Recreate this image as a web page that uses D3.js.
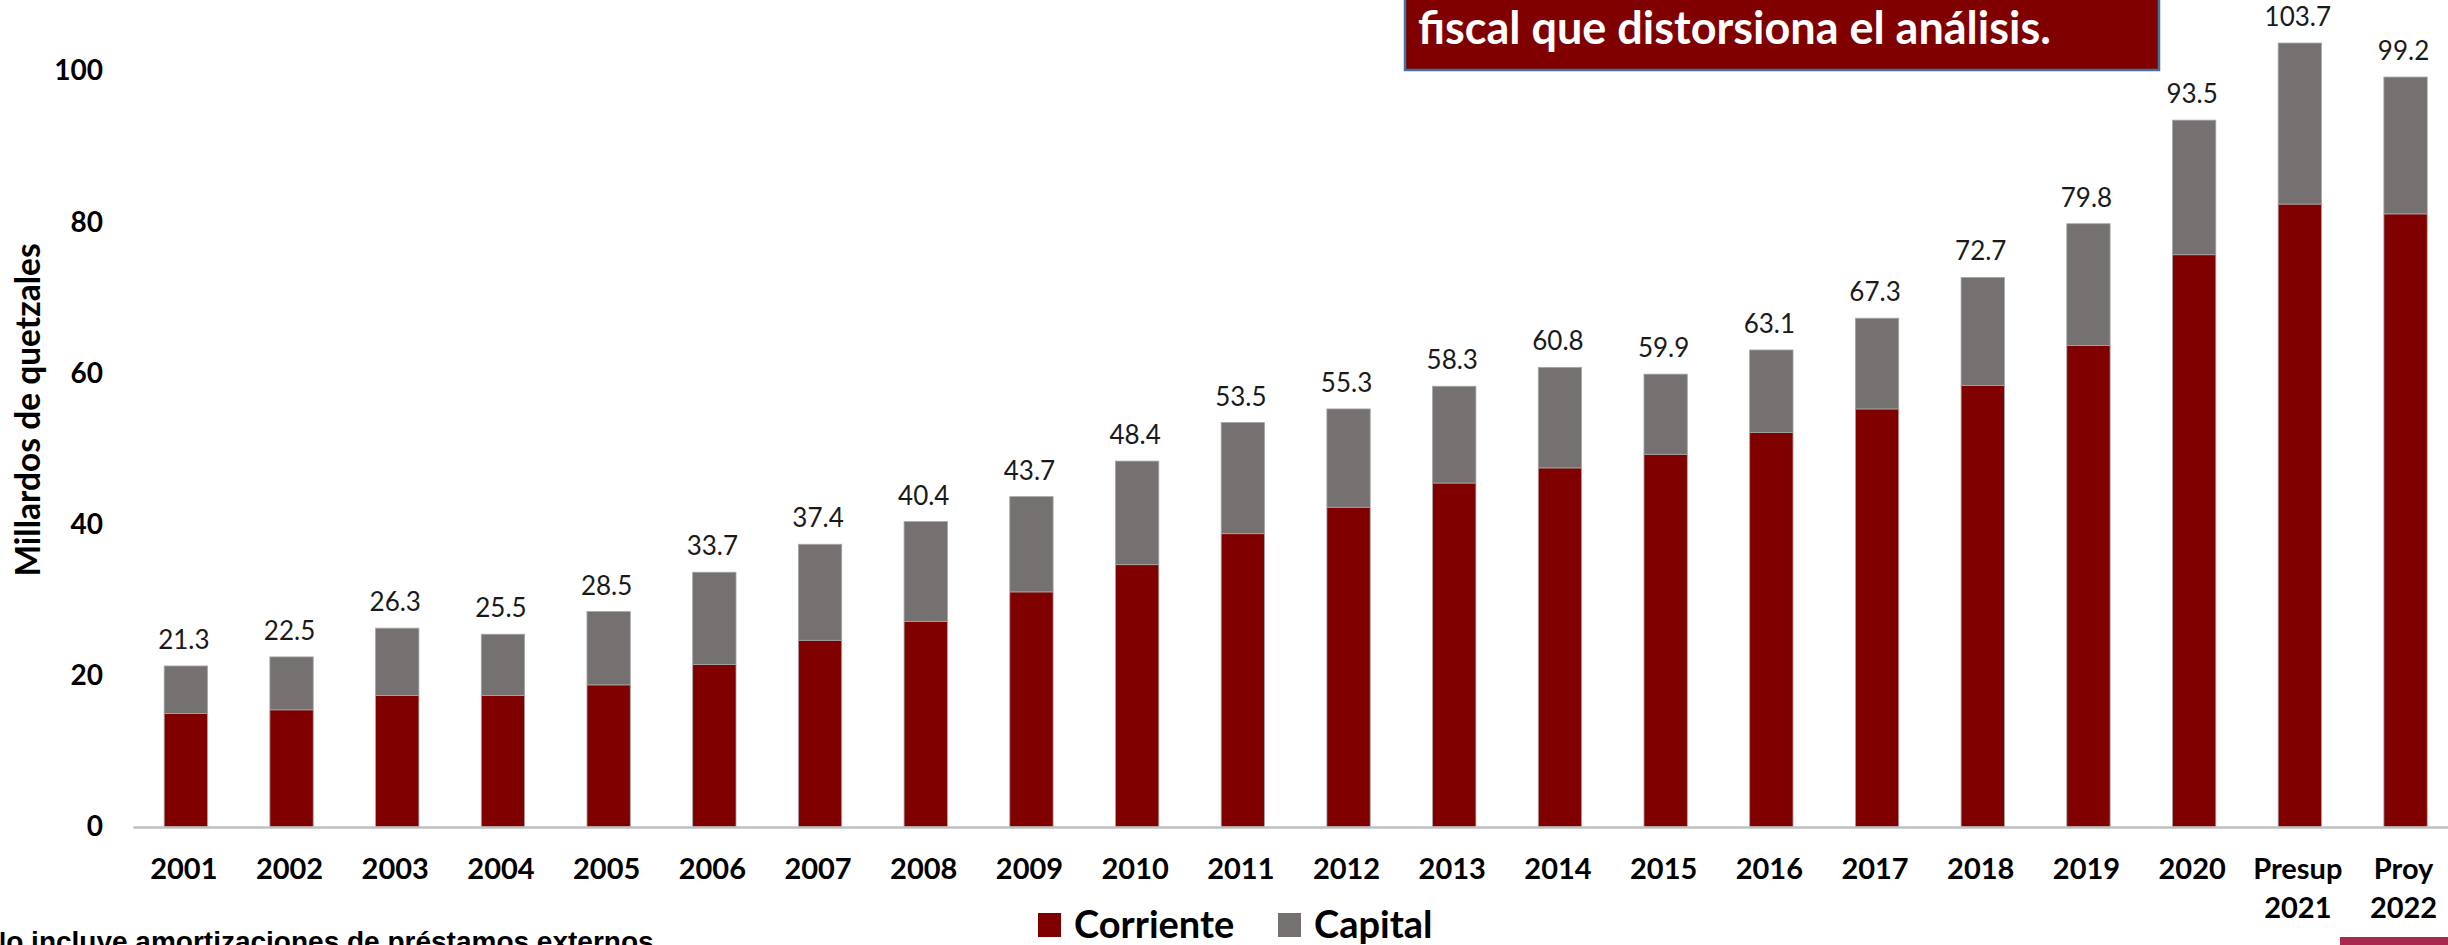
<!DOCTYPE html>
<html>
<head>
<meta charset="utf-8">
<script src="https://cdn.jsdelivr.net/npm/d3@7"></script>
<style>
  body { margin: 0; background: #fff; overflow: hidden; }
  svg { display: block; }
</style>
</head>
<body>
<div id="chart"></div>
<script>
// Data (millardos de quetzales)
const years = ["2001", "2002", "2003", "2004", "2005", "2006", "2007", "2008", "2009", "2010",
  "2011", "2012", "2013", "2014", "2015", "2016", "2017", "2018", "2019", "2020",
  "Presup 2021", "Proy 2022"];
const corriente = [15.0, 15.5, 17.4, 17.4, 18.8, 21.5, 24.7, 27.2, 31.1, 34.7,
  38.8, 42.3, 45.5, 47.5, 49.3, 52.2, 55.3, 58.4, 63.7, 75.7, 82.4, 81.1];
const capital = [6.3, 7.0, 8.9, 8.1, 9.7, 12.2, 12.7, 13.2, 12.6, 13.7,
  14.7, 13.0, 12.8, 13.3, 10.6, 10.9, 12.0, 14.3, 16.1, 17.8, 21.3, 18.1];
const totalLabels = ["21.3", "22.5", "26.3", "25.5", "28.5", "33.7", "37.4", "40.4", "43.7", "48.4",
  "53.5", "55.3", "58.3", "60.8", "59.9", "63.1", "67.3", "72.7", "79.8", "93.5", "103.7", "99.2"];
const yTicks = [0, 20, 40, 60, 80, 100];
const seriesNames = ["Corriente", "Capital"];

const width = 2448;
const height = 945;
const font = "Lato, 'Open Sans', sans-serif";
const colors = { Corriente: "#800000", Capital: "#767171" };

const svg = d3.select("#chart").append("svg")
  .attr("width", width)
  .attr("height", height);

// table for the stack layout
const table = years.map((y, i) => ({ year: y, Corriente: corriente[i], Capital: capital[i], label: totalLabels[i] }));
const stacked = d3.stack().keys(seriesNames)(table);

const x = d3.scaleBand()
  .domain(years)
  .range([133, 133 + 105.7 * years.length])
  .paddingInner(0.59)
  .paddingOuter(0.295);

const y = d3.scaleLinear()
  .domain([0, 100])
  .range([827, 71]);

// bars
svg.append("g")
  .selectAll("g")
  .data(stacked)
  .join("g")
  .attr("fill", d => colors[d.key])
  .selectAll("rect")
  .data(d => d)
  .join("rect")
  .attr("x", d => x(d.data.year))
  .attr("y", d => y(d[1]))
  .attr("width", x.bandwidth())
  .attr("height", d => y(d[0]) - y(d[1]))
  .attr("stroke", "#a6a6a6")
  .attr("stroke-width", 0.8);

// total labels above each bar
svg.append("g")
  .selectAll("text")
  .data(table)
  .join("text")
  .attr("x", d => x(d.year) + x.bandwidth() / 2 - 2)
  .attr("y", d => y(d.Corriente + d.Capital) - 17)
  .attr("text-anchor", "middle")
  .style("font-family", font)
  .style("font-size", "26px")
  .style("fill", "#1a1a1a")
  .text(d => d.label);

// x axis
const xAxis = svg.append("g")
  .attr("transform", "translate(0, 827)")
  .call(d3.axisBottom(x).tickSize(0).tickSizeOuter(0).tickFormat(""));
xAxis.select(".domain").attr("stroke", "#bfbfbf").attr("stroke-width", 2.5);

const xLabels = xAxis.selectAll(".tick text")
  .attr("y", 0)
  .attr("dy", 0)
  .style("font-family", font)
  .style("font-size", "29px")
  .style("font-weight", "bold")
  .style("fill", "#000");
xLabels.each(function(d) {
  const parts = d.split(" ");
  const t = d3.select(this);
  parts.forEach((p, i) => {
    t.append("tspan").attr("x", -2).attr("y", 52 + i * 39).text(p);
  });
});

// y axis
const yAxis = svg.append("g")
  .attr("transform", "translate(110, 0)")
  .call(d3.axisLeft(y).tickValues(yTicks).tickSize(0).tickPadding(7));
yAxis.select(".domain").remove();
yAxis.selectAll(".tick text")
  .style("font-family", font)
  .style("font-size", "28px")
  .style("font-weight", "bold")
  .style("fill", "#000");

// y axis title
svg.append("text")
  .attr("transform", "translate(40, 410) rotate(-90)")
  .attr("text-anchor", "middle")
  .style("font-family", font)
  .style("font-size", "33.5px")
  .style("font-weight", "bold")
  .text("Millardos de quetzales");

// legend
const legend = svg.append("g");
const legendX = [1038, 1278];
seriesNames.forEach((name, i) => {
  legend.append("rect")
    .attr("x", legendX[i])
    .attr("y", 913)
    .attr("width", 23)
    .attr("height", 24)
    .attr("fill", colors[name]);
  legend.append("text")
    .attr("x", legendX[i] + 36)
    .attr("y", 938)
    .style("font-family", font)
    .style("font-size", "38px")
    .style("font-weight", "bold")
    .text(name);
});

// callout box at the top
svg.append("rect")
  .attr("x", 1405)
  .attr("y", -10)
  .attr("width", 754)
  .attr("height", 80)
  .attr("fill", "#800000")
  .attr("stroke", "#41719c")
  .attr("stroke-width", 2.5);
svg.append("text")
  .attr("x", 1418)
  .attr("y", 44)
  .style("font-family", font)
  .style("font-size", "45px")
  .style("font-weight", "bold")
  .style("fill", "#fff")
  .text("fiscal que distorsiona el análisis.");

// footnote, cut by the bottom edge as in the source
svg.append("text")
  .attr("x", -14)
  .attr("y", 951)
  .style("font-family", "'Liberation Sans', Arial, sans-serif")
  .style("font-size", "28px")
  .style("font-weight", "bold")
  .text("No incluye amortizaciones de préstamos externos");

// strip in the bottom right corner
svg.append("rect")
  .attr("x", 2340)
  .attr("y", 937)
  .attr("width", 108)
  .attr("height", 10)
  .attr("fill", "#a8284e");
</script>
</body>
</html>
